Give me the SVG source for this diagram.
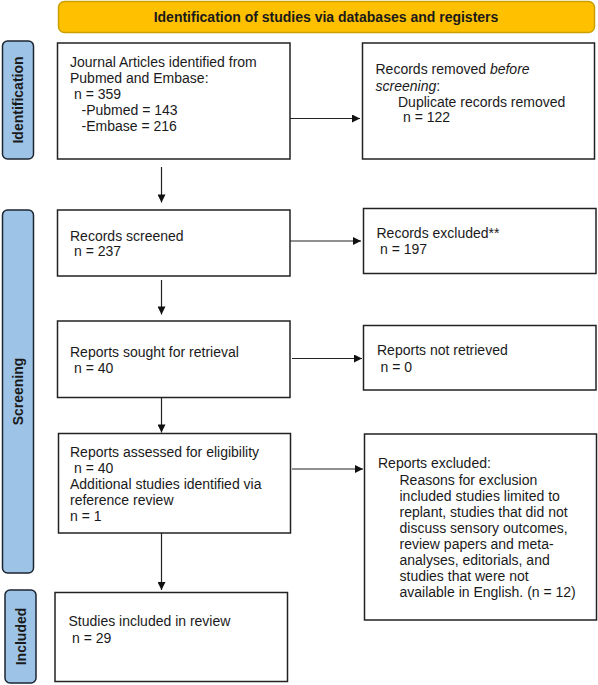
<svg xmlns="http://www.w3.org/2000/svg" width="598" height="685" viewBox="0 0 598 685">
<style>
text{font-family:"Liberation Sans",Arial,sans-serif;font-size:14px;fill:#1a1a1a}
.b{font-weight:bold}
.box{fill:#fff;stroke:#222;stroke-width:1.5}
.side{fill:#9dc3e6;stroke:#1c2530;stroke-width:1.5}
.hdr{fill:#ffc000;stroke:#c9a000;stroke-width:1.5}
.con{stroke:#222;stroke-width:1.2;fill:none;marker-end:url(#ah)}
</style>
<defs>
<marker id="ah" viewBox="0 0 10 10" refX="10" refY="5" markerWidth="9" markerHeight="8" markerUnits="userSpaceOnUse" orient="auto">
<path d="M0,0 L10,5 L0,10 z" fill="#111"/>
</marker>
</defs>
<rect width="598" height="685" fill="#fff"/>
<g id="header">
<rect class="hdr" x="58.5" y="1.5" width="536" height="31" rx="6"/>
<text class="b" x="326" y="21.5" text-anchor="middle">Identification of studies via databases and registers</text>
</g>
<g id="side-identification">
<rect class="side" x="2.5" y="41" width="31" height="118" rx="5"/>
<text class="b" transform="translate(23,100) rotate(-90)" text-anchor="middle">Identification</text>
</g>
<g id="side-screening">
<rect class="side" x="2.5" y="210" width="31" height="363" rx="5"/>
<text class="b" transform="translate(23,391.5) rotate(-90)" text-anchor="middle">Screening</text>
</g>
<g id="side-included">
<rect class="side" x="5" y="590" width="31" height="93" rx="5"/>
<text class="b" transform="translate(25.5,636.5) rotate(-90)" text-anchor="middle">Included</text>
</g>
<g id="identified">
<rect class="box" x="57.5" y="43" width="232.5" height="116"/>
<text x="70" y="66.5">Journal Articles identified from</text>
<text x="70" y="82.5">Pubmed and Embase:</text>
<text x="74" y="98.5">n = 359</text>
<text x="81.5" y="114.5">-Pubmed = 143</text>
<text x="81.5" y="130.5">-Embase = 216</text>
</g>
<g id="removed">
<rect class="box" x="362.5" y="43" width="232" height="116"/>
<text x="375.5" y="74">Records removed <tspan font-style="italic">before</tspan></text>
<text x="375.5" y="90.5"><tspan font-style="italic">screening</tspan>:</text>
<text x="398" y="106.5">Duplicate records removed</text>
<text x="403" y="122">n = 122</text>
</g>
<g id="screened">
<rect class="box" x="57.5" y="210" width="232.5" height="66"/>
<text x="70" y="240.5">Records screened</text>
<text x="74" y="256">n = 237</text>
</g>
<g id="excluded">
<rect class="box" x="363.5" y="208.5" width="232.5" height="65"/>
<text x="376.5" y="237.5">Records excluded**</text>
<text x="380" y="254">n = 197</text>
</g>
<g id="sought">
<rect class="box" x="57.5" y="321" width="232.5" height="76.5"/>
<text x="70" y="356.5">Reports sought for retrieval</text>
<text x="74" y="373">n = 40</text>
</g>
<g id="not-retrieved">
<rect class="box" x="363.5" y="325.5" width="232.5" height="64.5"/>
<text x="377" y="355">Reports not retrieved</text>
<text x="380.5" y="371.5">n = 0</text>
</g>
<g id="assessed">
<rect class="box" x="58.5" y="433.5" width="232" height="99.5"/>
<text x="70" y="456.5">Reports assessed for eligibility</text>
<text x="74" y="472.5">n = 40</text>
<text x="70" y="489">Additional studies identified via</text>
<text x="70" y="505">reference review</text>
<text x="70" y="521">n = 1</text>
</g>
<g id="reports-excluded">
<rect class="box" x="364.5" y="434" width="232" height="186"/>
<text x="378" y="468">Reports excluded:</text>
<text x="399.5" y="484.5">Reasons for exclusion</text>
<text x="399.5" y="500.5">included studies limited to</text>
<text x="399.5" y="516.5">replant, studies that did not</text>
<text x="399.5" y="532.5">discuss sensory outcomes,</text>
<text x="399.5" y="548.5">review papers and meta-</text>
<text x="399.5" y="564.5">analyses, editorials, and</text>
<text x="399.5" y="580.5">studies that were not</text>
<text x="399.5" y="597">available in English. (n = 12)</text>
</g>
<g id="included">
<rect class="box" x="55" y="592.5" width="232.5" height="89"/>
<text x="68.5" y="626">Studies included in review</text>
<text x="72" y="642.5">n = 29</text>
</g>
<g id="connectors">
<path class="con" d="M161.5,167 V202.5"/>
<path class="con" d="M161.5,280 V314.5"/>
<path class="con" d="M161.5,398 V432.5"/>
<path class="con" d="M161.5,533 V590"/>
<path class="con" d="M290,118.5 H360"/>
<path class="con" d="M290,241 H361"/>
<path class="con" d="M292,358.5 H362"/>
<path class="con" d="M292,469 H363"/>
</g>
</svg>
